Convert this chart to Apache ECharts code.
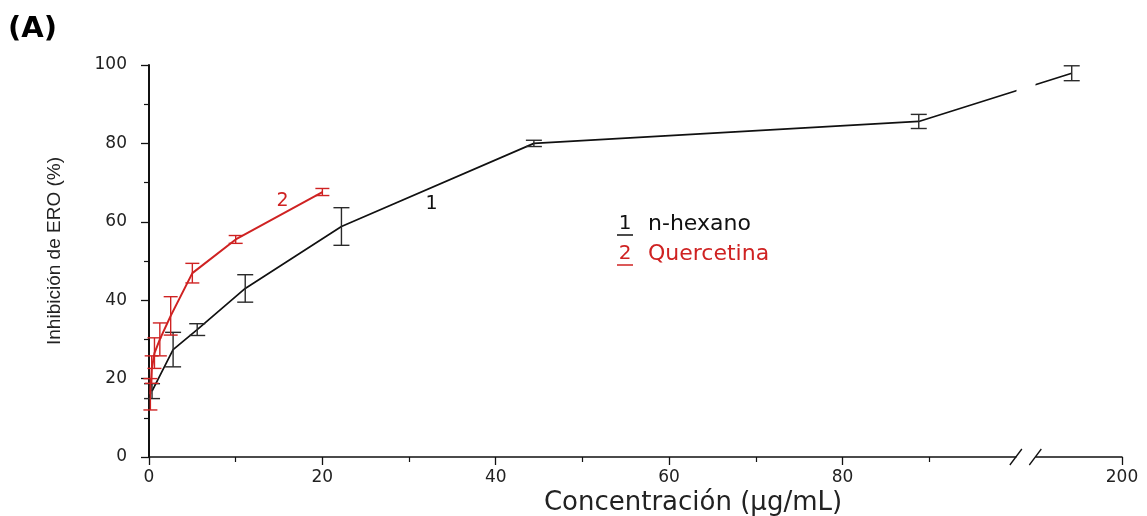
<!DOCTYPE html>
<html>
<head>
<meta charset="utf-8">
<script src="https://cdn.jsdelivr.net/npm/echarts@6.0.0/dist/echarts.min.js"></script>
<style>
  html, body { margin: 0; padding: 0; background: #fff; }
  #chart { width: 1147px; height: 516px; }
</style>
</head>
<body>
<div id="chart"></div>
<script>
// ---- Data ----
// Series 1: n-hexano (black)
const hexX   = [0.35, 2.78, 5.56, 11.1, 22.2, 44.4, 88.8, 194.2];
const hexY   = [16.8, 27.4, 32.5, 43.0, 58.8, 80.0, 85.6, 97.9];
const hexErr = [1.9, 4.4, 1.5, 3.5, 4.8, 0.8, 1.8, 1.9];
// Series 2: Quercetina (red)
const querX   = [0.16, 0.31, 0.63, 1.25, 2.5, 5, 10, 20];
const querY   = [16.0, 22.3, 26.5, 30.0, 36.0, 46.9, 55.5, 67.6];
const querErr = [4.0, 3.5, 3.9, 4.2, 4.9, 2.5, 1.0, 0.9];
// Axis
const xMajorTicks = [0, 20, 40, 60, 80, 200];
const xMinorTicks = [10, 30, 50, 70, 90];
const xBreak = { start: 100, end: 190 };
const xAxisTitle = 'Concentración (µg/mL)';
const yAxisTitle = 'Inhibición de ERO (%)';
const seriesNames = ['n-hexano', 'Quercetina'];
const curveLabels = [{ text: '1', x: 32.6, y: 64.6 }, { text: '2', x: 15.4, y: 65.2 }];

const BLACK = '#111111';
const RED = '#cf2222';

const chart = echarts.init(document.getElementById('chart'), null, { renderer: 'canvas' });

function pairs(xs, ys) { return xs.map((x, i) => [x, ys[i]]); }
function errData(xs, ys, es) { return xs.map((x, i) => [x, ys[i] - es[i], ys[i] + es[i]]); }

function errRender(color, h) {
  return function (params, api) {
    const x = api.value(0), lo = api.value(1), hi = api.value(2);
    const pLo = api.coord([x, lo]);
    const pHi = api.coord([x, hi]);
    const st = { stroke: color, lineWidth: 1.4 };
    return {
      type: 'group',
      children: [
        { type: 'line', shape: { x1: pLo[0], y1: pLo[1], x2: pHi[0], y2: pHi[1] }, style: st },
        { type: 'line', shape: { x1: pLo[0] - h, y1: pLo[1], x2: pLo[0] + h, y2: pLo[1] }, style: st },
        { type: 'line', shape: { x1: pHi[0] - h, y1: pHi[1], x2: pHi[0] + h, y2: pHi[1] }, style: st }
      ]
    };
  };
}

const FONT = 'DejaVu Sans';

const baseX = {
  type: 'value', min: 0, max: 200, gridIndex: 0, position: 'bottom',
  breaks: [{ start: xBreak.start, end: xBreak.end, gap: '2%' }],
  splitLine: { show: false }
};

const option = {
  animation: false,
  backgroundColor: '#ffffff',
  grid: { left: 149, right: 25, top: 65, bottom: 59, containLabel: false, outerBoundsMode: 'none' },
  xAxis: [
    Object.assign({}, baseX, {
      breakArea: {
        show: true,
        zigzagAmplitude: 0,
        zigzagZ: 100,
        expandOnClick: false,
        itemStyle: { color: '#ffffff', borderColor: '#ffffff', borderWidth: 0, opacity: 1 }
      },
      axisLine: { show: true, onZero: false, lineStyle: { color: BLACK, width: 1.5 } },
      axisTick: { show: true, inside: false, length: 8, customValues: xMajorTicks, lineStyle: { color: BLACK, width: 1.3 } },
      axisLabel: { show: true, customValues: xMajorTicks, margin: 12, fontFamily: FONT, fontSize: 17, color: '#222' }
    }),
    Object.assign({}, baseX, {
      breakArea: { show: false },
      axisLine: { show: false },
      axisTick: { show: true, inside: false, length: 5, customValues: xMinorTicks, lineStyle: { color: BLACK, width: 1.2 } },
      axisLabel: { show: false }
    })
  ],
  yAxis: {
    type: 'value', min: 0, max: 100, interval: 20,
    splitLine: { show: false },
    axisLine: { show: true, onZero: false, lineStyle: { color: BLACK, width: 2 } },
    axisTick: { show: true, inside: false, length: 8, lineStyle: { color: BLACK, width: 1.3 } },
    minorTick: { show: true, splitNumber: 2, length: 5, lineStyle: { color: BLACK, width: 1.2 } },
    axisLabel: { margin: 22, fontFamily: FONT, fontSize: 17, color: '#222' }
  },
  series: [
    {
      name: seriesNames[0], type: 'line', data: pairs(hexX, hexY),
      symbol: 'none', lineStyle: { color: BLACK, width: 1.7 }, z: 3
    },
    {
      name: seriesNames[1], type: 'line', data: pairs(querX, querY),
      symbol: 'none', lineStyle: { color: RED, width: 2 }, z: 4
    },
    {
      type: 'custom', name: seriesNames[0] + ' err', data: errData(hexX, hexY, hexErr),
      encode: { x: 0, y: [1, 2] }, clip: false, renderItem: errRender('#2a2a2a', 8), z: 5
    },
    {
      type: 'custom', name: seriesNames[1] + ' err', data: errData(querX, querY, querErr),
      encode: { x: 0, y: [1, 2] }, clip: false, renderItem: errRender(RED, 7), z: 6
    }
  ]
};

chart.setOption(option);

// ---- Decorations: panel letter, axis titles, legend, curve labels, break slashes ----
const y0 = chart.convertToPixel({ yAxisIndex: 0 }, 0);
const bs = chart.convertToPixel({ xAxisIndex: 0 }, xBreak.start);
const be = chart.convertToPixel({ xAxisIndex: 0 }, xBreak.end);
const graphics = [];

graphics.push({
  type: 'text', left: 8, top: 15, z: 200,
  style: { text: '(A)', fontFamily: FONT, fontWeight: 'bold', fontSize: 29, fill: '#000' }
});
graphics.push({
  type: 'text', x: 55, y: 251, rotation: Math.PI / 2, z: 200,
  style: { text: yAxisTitle, fontFamily: '"Liberation Sans", Arial, sans-serif',
           fontSize: 19, fill: '#222', align: 'center', verticalAlign: 'middle' }
});
graphics.push({
  type: 'text', x: 693, y: 503, z: 200,
  style: { text: xAxisTitle, fontFamily: FONT, fontSize: 26, fill: '#222', align: 'center', verticalAlign: 'middle' }
});
// white cover of axis line inside the break, plus the two slashes
graphics.push({ type: 'rect', z: 150, shape: { x: bs + 1, y: y0 - 3, width: be - bs - 2, height: 6 }, style: { fill: '#fff' } });
[bs, be].forEach(function (px) {
  graphics.push({ type: 'line', z: 160, shape: { x1: px - 6, y1: y0 + 8, x2: px + 6, y2: y0 - 8 }, style: { stroke: BLACK, lineWidth: 1.3 } });
});
// legend
const legendItems = [
  { num: '1', name: seriesNames[0], color: '#111', y: 224 },
  { num: '2', name: seriesNames[1], color: RED, y: 254 }
];
legendItems.forEach(function (it) {
  graphics.push({ type: 'text', x: 625, y: it.y, z: 200,
    style: { text: it.num, fontFamily: FONT, fontSize: 20, fill: it.color, align: 'center', verticalAlign: 'middle' } });
  graphics.push({ type: 'line', z: 200, shape: { x1: 617, y1: it.y + 11, x2: 633, y2: it.y + 11 }, style: { stroke: it.color, lineWidth: 1.5 } });
  graphics.push({ type: 'text', x: 648, y: it.y, z: 200,
    style: { text: it.name, fontFamily: FONT, fontSize: 22, fill: it.color, align: 'left', verticalAlign: 'middle' } });
});
// curve labels
curveLabels.forEach(function (c, i) {
  const p = chart.convertToPixel({ xAxisIndex: 0, yAxisIndex: 0 }, [c.x, c.y]);
  graphics.push({ type: 'text', x: p[0], y: p[1], z: 200,
    style: { text: c.text, fontFamily: FONT, fontSize: 19, fill: i === 0 ? '#111' : RED, align: 'center', verticalAlign: 'middle' } });
});

chart.setOption({ graphic: graphics });
</script>
</body>
</html>
